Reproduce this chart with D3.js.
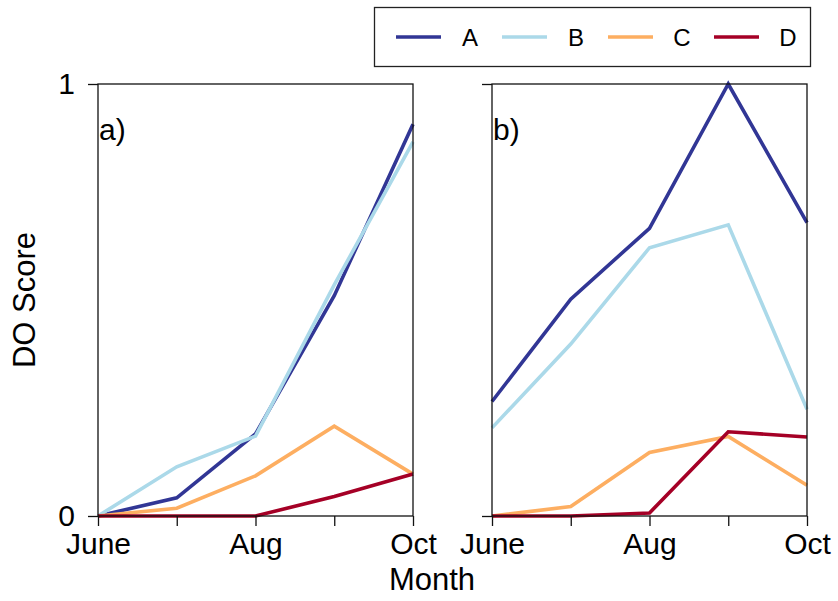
<!DOCTYPE html>
<html>
<head>
<meta charset="utf-8">
<script src="https://cdn.jsdelivr.net/npm/d3@7"></script>
<style>
  body { margin: 0; background: #fff; }
  text { font-family: "Liberation Sans", Arial, sans-serif; fill: #000; }
</style>
</head>
<body>
<div id="chart"></div>
<script>
// months along the x axis, only every other one gets a label
const months = ["June", "July", "Aug", "Sep", "Oct"];
const monthLabels = ["June", "", "Aug", "", "Oct"];
const seriesNames = ["A", "B", "C", "D"];
const seriesColors = ["#313695", "#abd9e9", "#fdae61", "#a50026"];

// panel a) values, one array per series
const panelA_A = [0, 0.042, 0.19, 0.51, 0.907];
const panelA_B = [0, 0.114, 0.185, 0.535, 0.866];
const panelA_C = [0, 0.018, 0.093, 0.208, 0.097];
const panelA_D = [0, 0, 0, 0.045, 0.097];

// panel b) values
const panelB_A = [0.265, 0.502, 0.666, 1.0, 0.679];
const panelB_B = [0.204, 0.398, 0.621, 0.674, 0.247];
const panelB_C = [0, 0.022, 0.147, 0.184, 0.071];
const panelB_D = [0, 0, 0.007, 0.195, 0.183];

const panels = [
  { tag: "a)", left: 98, showY: true, series: [panelA_A, panelA_B, panelA_C, panelA_D] },
  { tag: "b)", left: 492, showY: false, series: [panelB_A, panelB_B, panelB_C, panelB_D] }
];

const svgWidth = 838, svgHeight = 601;
const panelW = 315, plotTop = 84, plotBottom = 516;

const svg = d3.select("#chart").append("svg")
  .attr("width", svgWidth)
  .attr("height", svgHeight);

const yScale = d3.scaleLinear().domain([0, 1]).range([plotBottom, plotTop]);

panels.forEach(p => {
  const xScale = d3.scaleLinear()
    .domain([0, months.length - 1])
    .range([p.left, p.left + panelW]);

  const g = svg.append("g");

  // series lines
  const line = d3.line()
    .x((d, i) => xScale(i))
    .y(d => yScale(d));

  p.series.forEach((vals, k) => {
    g.append("path")
      .datum(vals)
      .attr("d", line)
      .attr("fill", "none")
      .attr("stroke", seriesColors[k])
      .attr("stroke-width", 3.6)
      .attr("stroke-linejoin", "miter");
  });

  // box around the panel
  g.append("rect")
    .attr("x", p.left)
    .attr("y", plotTop)
    .attr("width", panelW)
    .attr("height", plotBottom - plotTop)
    .attr("fill", "none")
    .attr("stroke", "#111")
    .attr("stroke-width", 1.3);

  // x axis
  const xAxis = d3.axisBottom(xScale)
    .tickValues(d3.range(months.length))
    .tickFormat(i => monthLabels[i])
    .tickSize(10)
    .tickPadding(7);

  const gx = g.append("g")
    .attr("transform", "translate(0," + plotBottom + ")")
    .call(xAxis);
  gx.select(".domain").remove();
  gx.selectAll(".tick line").attr("stroke", "#111").attr("stroke-width", 1.3);
  gx.selectAll(".tick text")
    .style("font-size", "30px")
    .attr("fill", "#000");

  // y axis (labels only on the first panel)
  const yAxis = d3.axisLeft(yScale)
    .tickValues([0, 1])
    .tickFormat(d => p.showY ? d3.format("d")(d) : "")
    .tickSize(10)
    .tickPadding(13);

  const gy = g.append("g")
    .attr("transform", "translate(" + p.left + ",0)")
    .call(yAxis);
  gy.select(".domain").remove();
  gy.selectAll(".tick line").attr("stroke", "#111").attr("stroke-width", 1.3);
  gy.selectAll(".tick text")
    .style("font-size", "30px")
    .attr("fill", "#000");

  // panel tag
  g.append("text")
    .attr("x", p.left + 1)
    .attr("y", 140)
    .style("font-size", "30px")
    .text(p.tag);
});

// axis titles
svg.append("text")
  .attr("transform", "translate(35,300) rotate(-90)")
  .attr("text-anchor", "middle")
  .style("font-size", "31px")
  .text("DO Score");

svg.append("text")
  .attr("x", 432)
  .attr("y", 590)
  .attr("text-anchor", "middle")
  .style("font-size", "31px")
  .text("Month");

// legend
const legend = svg.append("g");
legend.append("rect")
  .attr("x", 374.5)
  .attr("y", 7.5)
  .attr("width", 436)
  .attr("height", 59)
  .attr("fill", "#fff")
  .attr("stroke", "#222")
  .attr("stroke-width", 1.3);

seriesNames.forEach((name, k) => {
  const x0 = 396 + k * 106;
  legend.append("line")
    .attr("x1", x0)
    .attr("x2", x0 + 45)
    .attr("y1", 37)
    .attr("y2", 37)
    .attr("stroke", seriesColors[k])
    .attr("stroke-width", 3.6);
  legend.append("text")
    .attr("x", x0 + 74)
    .attr("y", 46)
    .attr("text-anchor", "middle")
    .style("font-size", "24px")
    .text(name);
});
</script>
</body>
</html>
